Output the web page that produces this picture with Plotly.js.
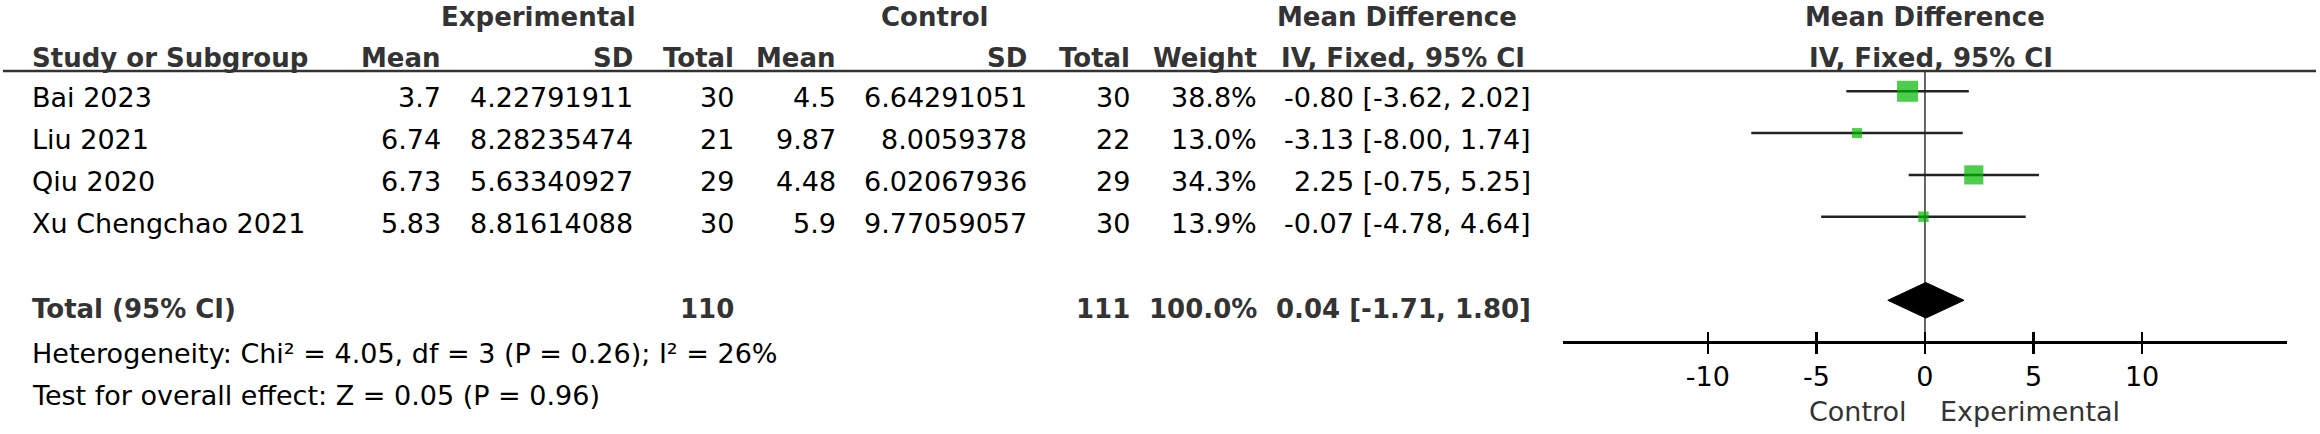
<!DOCTYPE html>
<html>
<head>
<meta charset="utf-8">
<script src="https://cdn.plot.ly/plotly-3.0.1.min.js"></script>
<style>
  html, body { margin: 0; padding: 0; background: #fff; }
  #forest { width: 2320px; height: 434px; }
</style>
</head>
<body>
<div id="forest"></div>
<script>
// Study data
const studies = ['Bai 2023', 'Liu 2021', 'Qiu 2020', 'Xu Chengchao 2021'];
const expMean = [3.7, 6.74, 6.73, 5.83];
const expSD = [4.22791911, 8.28235474, 5.63340927, 8.81614088];
const expTotal = [30, 21, 29, 30];
const ctlMean = [4.5, 9.87, 4.48, 5.9];
const ctlSD = [6.64291051, 8.0059378, 6.02067936, 9.77059057];
const ctlTotal = [30, 22, 29, 30];
const weight = [38.8, 13.0, 34.3, 13.9];
const md = [-0.8, -3.13, 2.25, -0.07];
const ciLow = [-3.62, -8.0, -0.75, -4.78];
const ciHigh = [2.02, 1.74, 5.25, 4.64];

// Pooled result
const totalExp = 110;
const totalCtl = 111;
const totalWeight = 100.0;
const pooledMd = 0.04;
const pooledLow = -1.71;
const pooledHigh = 1.8;
const heterogeneityText = 'Heterogeneity: Chi² = 4.05, df = 3 (P = 0.26); I² = 26%';
const overallText = 'Test for overall effect: Z = 0.05 (P = 0.96)';

const tickVals = [-10, -5, 0, 5, 10];
const favoursLeft = 'Control';
const favoursRight = 'Experimental';

// Page geometry
const W = 2320;
const H = 434;
const ROW0 = 91.3; // pixel centre of first study row
const PITCH = 41.8; // pixel distance between rows
const FONT = 'DejaVu Sans, Liberation Sans, sans-serif';
const REG = 27;
const BOLD = 26;
const TOTAL_ROW = 5;
const AXIS_ROW = 6;

const yTop = -ROW0 / PITCH;
const yBot = (H - ROW0) / PITCH;
const rowOf = (py) => (py - ROW0) / PITCH;
const axisPos = (yBot - AXIS_ROW) / (yBot - yTop);

const rows = studies.map((s, i) => i);
const fmt2 = (v) => v.toFixed(2);
const ciText = (m, lo, hi) => `${fmt2(m)} [${fmt2(lo)}, ${fmt2(hi)}]`;

// Table text
const annotations = [];
function addText(text, xPx, py, anchor, bold, size, color) {
  annotations.push({
    text: bold ? `<b>${text}</b>` : text,
    xref: 'paper',
    yref: 'y',
    x: xPx / W,
    y: rowOf(py),
    xanchor: anchor,
    yanchor: 'middle',
    showarrow: false,
    borderpad: 0,
    font: {
      family: FONT,
      size: size || (bold ? BOLD : REG),
      color: color || (bold ? '#333333' : '#000000'),
    },
  });
}

// group headers
addText('Experimental', 538, 17, 'center', true);
addText('Control', 934, 17, 'center', true);
addText('Mean Difference', 1397, 17, 'center', true);
addText('Mean Difference', 1925, 17, 'center', true);

// column headers
const hy = 58;
addText('Study or Subgroup', 31, hy, 'left', true);
addText('Mean', 442, hy, 'right', true);
addText('SD', 634, hy, 'right', true);
addText('Total', 735, hy, 'right', true);
addText('Mean', 837, hy, 'right', true);
addText('SD', 1028, hy, 'right', true);
addText('Total', 1131, hy, 'right', true);
addText('Weight', 1258, hy, 'right', true);
addText('IV, Fixed, 95% CI', 1403, hy, 'center', true);
addText('IV, Fixed, 95% CI', 1931, hy, 'center', true);

// study rows
studies.forEach((name, i) => {
  const py = ROW0 + PITCH * i + 6.5;
  addText(name, 31, py, 'left', false);
  addText(String(expMean[i]), 442, py, 'right', false);
  addText(String(expSD[i]), 634, py, 'right', false);
  addText(String(expTotal[i]), 735, py, 'right', false);
  addText(String(ctlMean[i]), 837, py, 'right', false);
  addText(String(ctlSD[i]), 1028, py, 'right', false);
  addText(String(ctlTotal[i]), 1131, py, 'right', false);
  addText(`${weight[i].toFixed(1)}%`, 1258, py, 'right', false);
  addText(ciText(md[i], ciLow[i], ciHigh[i]), 1532, py, 'right', false);
});

// total row
const ty = 309;
addText('Total (95% CI)', 31, ty, 'left', true);
addText(String(totalExp), 735, ty, 'right', true);
addText(String(totalCtl), 1131, ty, 'right', true);
addText(`${totalWeight.toFixed(1)}%`, 1258, ty, 'right', true);
addText(ciText(pooledMd, pooledLow, pooledHigh), 1532, ty, 'right', true);

addText(heterogeneityText, 31, 353, 'left', false);
addText(overallText, 31, 395, 'left', false);

// favours labels under the axis
annotations.push(
  {
    text: favoursLeft, xref: 'x', yref: 'y', x: 0, y: rowOf(411),
    xanchor: 'right', yanchor: 'middle', xshift: -16, showarrow: false,
    font: { family: FONT, size: REG, color: '#333333' },
  },
  {
    text: favoursRight, xref: 'x', yref: 'y', x: 0, y: rowOf(411),
    xanchor: 'left', yanchor: 'middle', xshift: 13, showarrow: false,
    font: { family: FONT, size: REG, color: '#333333' },
  }
);

// Forest plot traces
const ciX = [];
const ciY = [];
rows.forEach((r, i) => {
  ciX.push(ciLow[i], ciHigh[i], null);
  ciY.push(r, r, null);
});

const ciTrace = {
  x: ciX,
  y: ciY,
  type: 'scatter',
  mode: 'lines',
  line: { color: '#222222', width: 2.5 },
  hoverinfo: 'skip',
};

const boxTrace = {
  x: md,
  y: rows,
  type: 'scatter',
  mode: 'markers',
  marker: {
    symbol: 'square',
    color: '#00b800',
    size: weight.map((w) => 4.5 + 0.426 * w),
    line: { width: 0 },
  },
  hoverinfo: 'skip',
};

const halfH = 17.8 / PITCH;
const diamondTrace = {
  x: [pooledLow, pooledMd, pooledHigh, pooledMd, pooledLow],
  y: [TOTAL_ROW, TOTAL_ROW - halfH, TOTAL_ROW, TOTAL_ROW + halfH, TOTAL_ROW],
  xaxis: 'x2',
  yaxis: 'y',
  type: 'scatter',
  mode: 'lines',
  fill: 'toself',
  fillcolor: '#000000',
  line: { color: '#000000', width: 1 },
  hoverinfo: 'skip',
};

const xDomain = [1562.8 / W, 2287.1 / W];
const xRange = [-16.68, 16.68];

const layout = {
  width: W,
  height: H,
  margin: { l: 0, r: 0, t: 0, b: 0, pad: 0 },
  paper_bgcolor: '#ffffff',
  plot_bgcolor: 'rgba(0,0,0,0)',
  showlegend: false,
  font: { family: FONT, color: '#000000' },
  xaxis: {
    domain: xDomain,
    range: xRange,
    anchor: 'free',
    position: axisPos,
    showline: true,
    linecolor: '#000000',
    linewidth: 2.5,
    ticks: 'outside',
    ticklen: 10,
    tickwidth: 2.5,
    tickcolor: '#000000',
    tickvals: tickVals,
    ticktext: tickVals.map(String),
    tickfont: { family: FONT, size: 27, color: '#000000' },
    ticklabelstandoff: 0,
    showgrid: false,
    zeroline: false,
    fixedrange: true,
  },
  xaxis2: {
    domain: xDomain,
    range: xRange,
    overlaying: 'x',
    anchor: 'free',
    position: axisPos,
    showline: false,
    ticks: 'inside',
    ticklen: 10,
    tickwidth: 2.5,
    tickcolor: '#000000',
    tickvals: tickVals,
    showticklabels: false,
    showgrid: false,
    zeroline: false,
    fixedrange: true,
  },
  yaxis: {
    domain: [0, 1],
    range: [yBot, yTop],
    visible: false,
    fixedrange: true,
  },
  shapes: [
    // header rule
    {
      type: 'line', xref: 'paper', yref: 'y',
      x0: 3 / W, x1: 2316 / W, y0: rowOf(71), y1: rowOf(71),
      line: { color: '#333333', width: 2.5 },
    },
    // line of no effect
    {
      type: 'line', xref: 'x', yref: 'y', layer: 'below',
      x0: 0, x1: 0, y0: rowOf(71), y1: AXIS_ROW,
      line: { color: '#333333', width: 1.5 },
    },
  ],
  annotations: annotations,
};

Plotly.newPlot('forest', [ciTrace, boxTrace, diamondTrace], layout, {
  staticPlot: true,
  displayModeBar: false,
});
</script>
</body>
</html>
